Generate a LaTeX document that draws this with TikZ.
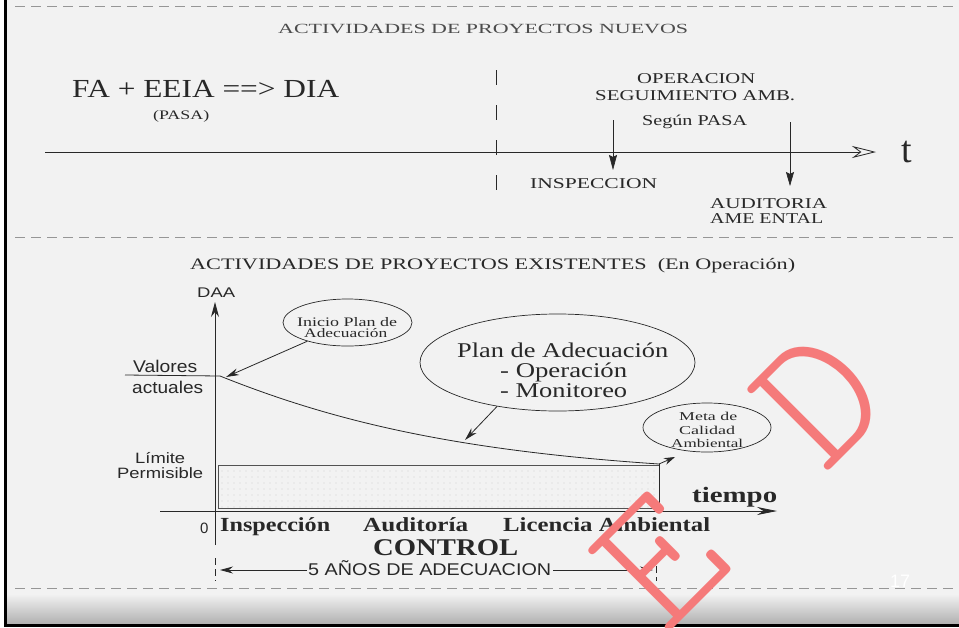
\documentclass[tikz,border=0pt]{standalone}
\usepackage{fontspec}
\setmainfont{Liberation Serif}
\newfontfamily\arialf{Liberation Sans}
\newfontfamily\wmf{lmmonolt10-regular.otf}
\usetikzlibrary{arrows.meta,shapes.geometric,patterns.meta}
\definecolor{ink}{RGB}{40,40,40}
\definecolor{paper}{RGB}{242,242,242}
\definecolor{wm}{RGB}{245,122,122}
\definecolor{dashc}{RGB}{150,150,150}
\newcommand{\fw}[2]{\resizebox{#1}{\height}{#2}}
\newcommand{\fs}[1]{\fontsize{#1}{#1}\selectfont}
\begin{document}
\begin{tikzpicture}[x=1pt,y=-1pt,
  txt/.style={inner sep=0pt, anchor=base west, text=ink},
  sep/.style={draw=dashc, line width=1pt, dash pattern=on 10pt off 6pt},
  ell/.style={ellipse, draw=ink, line width=0.7pt, inner sep=0pt},
  arr/.style={draw=ink, line width=0.8pt, -{Stealth[length=13pt,width=7pt]}},
  axis/.style={draw=ink, line width=0.8pt},
  wmark/.style={inner sep=0pt, text=wm, rotate=45, font=\wmf\fs{190}}]
\clip (0,0) rectangle (959,627);
\fill[paper] (0,0) rectangle (959,627);
\fill[white] (0,0) rectangle (4,627);
% scanner shadow at the bottom
\shade[top color=paper, bottom color=gray!60] (5,594) rectangle (959,623);
\draw[black, line width=3pt] (5.5,0) -- (5.5,627);
\draw[black, line width=3pt] (4,625) -- (959,625);

% separators
\coordinate (s1a) at (15,6);   \coordinate (s1b) at (955,6);
\coordinate (s2a) at (15,237); \coordinate (s2b) at (955,237);
\coordinate (s3a) at (15,588); \coordinate (s3b) at (955,588);
\draw[sep] (s1a) -- (s1b);
\draw[sep] (s2a) -- (s2b);
\draw[sep] (s3a) -- (s3b);

% ===== upper part =====
\node[txt, text=black!70] (title1) at (278,33) {\fs{14}\fw{410pt}{ACTIVIDADES DE PROYECTOS NUEVOS}};
\node[txt] (fa) at (72,97) {\fs{26}\fw{267pt}{FA + EEIA ==> DIA}};
\node[txt] (pasa) at (153,119) {\fs{13}\fw{56pt}{(PASA)}};
\node[txt] (oper) at (637,83) {\fs{15}\fw{118pt}{OPERACION}};
\node[txt] (segu) at (595,100) {\fs{15}\fw{200pt}{SEGUIMIENTO AMB.}};
\node[txt] (segun) at (642,125) {\fs{15}\fw{105pt}{Según PASA}};
\node[txt] (insp) at (530,188) {\fs{15}\fw{127pt}{INSPECCION}};
\node[txt] (audit) at (710,208) {\fs{15}\fw{117pt}{AUDITORIA}};
\node[txt] (ambt) at (710,223) {\fs{15}\fw{113pt}{AME ENTAL}};
\node[txt] (tt) at (901,162) {\fs{38}t};

\coordinate (ta0) at (45,152); \coordinate (ta1) at (876,152);
\draw[axis, -{Stealth[open, length=24pt, width=12pt, inset=8pt]}] (ta0) -- (ta1);
\coordinate (vd0) at (496,70); \coordinate (vd1) at (496,190);
\draw[draw=ink, line width=1pt, dash pattern=on 15pt off 20pt] (vd0) -- (vd1);
\coordinate (k1a) at (613,120); \coordinate (k1b) at (613,170);
\coordinate (k2a) at (790,122); \coordinate (k2b) at (790,186);
\draw[draw=ink, line width=0.6pt, -{Stealth[length=15pt,width=8pt,inset=2pt]}] (k1a) -- (k1b);
\draw[draw=ink, line width=0.6pt, -{Stealth[length=14pt,width=8pt,inset=2pt]}] (k2a) -- (k2b);

% ===== lower part =====
\node[txt] (title2) at (190,269) {\fs{16}\fw{605pt}{ACTIVIDADES DE PROYECTOS EXISTENTES\ \ (En Operación)}};
\node[txt] (daa) at (197,297) {\arialf\fs{14}\fw{38pt}{DAA}};
\node[txt] (val) at (133,372) {\arialf\fs{17}\fw{64pt}{Valores}};
\node[txt] (act) at (132,393) {\arialf\fs{17}\fw{71pt}{actuales}};
\node[txt] (lim) at (135,463) {\arialf\fs{15}\fw{50pt}{Límite}};
\node[txt] (perm) at (117,478) {\arialf\fs{15}\fw{86pt}{Permisible}};
\node[txt] (zero) at (200,533) {\arialf\fs{15}0};

% dotted band
\node[draw=ink!80, line width=0.7pt, inner sep=0pt, minimum width=441pt, minimum height=43pt,
      pattern={Dots[distance=6pt, radius=0.45pt]}, pattern color=gray!80] (band) at (438.5,486.5) {};

% axes
\coordinate (ya0) at (215,545); \coordinate (ya1) at (215,302);
\coordinate (xa0) at (160,511); \coordinate (xa1) at (777,511);
\draw[axis, -{Stealth[length=15pt,width=8pt]}] (ya0) -- (ya1);
\draw[axis, -{Stealth[length=20pt,width=8pt]}] (xa0) -- (xa1);

% curve
\coordinate (vl0) at (125,375);
\coordinate (vstart) at (220,376);
\coordinate (vend) at (659,464);
\draw[axis] (vl0) -- (vstart);
\draw[axis] (vstart) .. controls (330,420) and (450,450) .. (vend);
\draw[axis] (vend) -- (vend |- xa0);

% ellipses
\node[ell, minimum width=129pt, minimum height=47pt] (inicio) at (347.5,322.5) {};
\node[txt] (ini1) at (297,326) {\fs{13}\fw{100pt}{Inicio Plan de}};
\node[txt] (ini2) at (304,337) {\fs{13}\fw{83pt}{Adecuación}};
\node[ell, minimum width=275pt, minimum height=97pt] (plan) at (557.5,362.5) {};
\node[txt] (pl1) at (457,357) {\fs{21}\fw{211pt}{Plan de Adecuación}};
\node[txt] (pl2) at (500,377) {\fs{21}\fw{127pt}{- Operación}};
\node[txt] (pl3) at (500,397) {\fs{21}\fw{127pt}{- Monitoreo}};
\node[ell, minimum width=128pt, minimum height=49pt] (meta) at (707,427.5) {};
\node[txt] (me1) at (679,420) {\fs{12}\fw{58pt}{Meta de}};
\node[txt] (me2) at (679,434) {\fs{12}\fw{56pt}{Calidad}};
\node[txt] (me3) at (671,447) {\fs{12}\fw{72pt}{Ambiental}};

\coordinate (plantip) at (465,440);
\coordinate (metatip) at (675,457);
\draw[arr] (inicio.205) -- ([xshift=6pt,yshift=-1pt]vstart);
\draw[arr] (plan.216) -- (plantip);
\draw[arr, -{Stealth[length=11pt,width=7pt]}] (vend) -- (metatip);

% bottom labels
\node[txt] (lb1) at (220,531) {\bfseries\fs{20}\fw{110pt}{Inspección}};
\node[txt] (lb2) at (363,531) {\bfseries\fs{20}\fw{105pt}{Auditoría}};
\node[txt] (lb3) at (503,531) {\bfseries\fs{20}\fw{207pt}{Licencia Ambiental}};
\node[txt] (ctrl) at (373,555) {\bfseries\fs{24}\fw{145pt}{CONTROL}};
\node[txt] (tiempo) at (692,502) {\bfseries\fs{22}\fw{85pt}{tiempo}};

% 5 years
\node[txt] (anos) at (308,575) {\arialf\fs{17}\fw{243pt}{5 AÑOS DE ADECUACION}};
\coordinate (d1a) at (215,558); \coordinate (d1b) at (215,581);
\coordinate (d2a) at (656,555); \coordinate (d2b) at (656,581);
\draw[draw=ink, line width=0.7pt, dash pattern=on 7pt off 4pt] (d1a) -- (d1b);
\draw[draw=ink, line width=0.7pt, dash pattern=on 7pt off 4pt] (d2a) -- (d2b);
\coordinate (lt) at (220,570);
\coordinate (rt) at (653,570);
\coordinate (la) at (307,570);
\coordinate (ra) at (553,570);
\draw[arr] (la) -- (lt);
\draw[arr] (ra) -- (rt);

\node[txt, text=white] (pg) at (890,587) {\arialf\fs{18}17};

% watermark
\node[wmark] (wmE) at (660,560) {E};
\node[wmark] (wmD) at (820,398) {D};
\end{tikzpicture}
\end{document}
